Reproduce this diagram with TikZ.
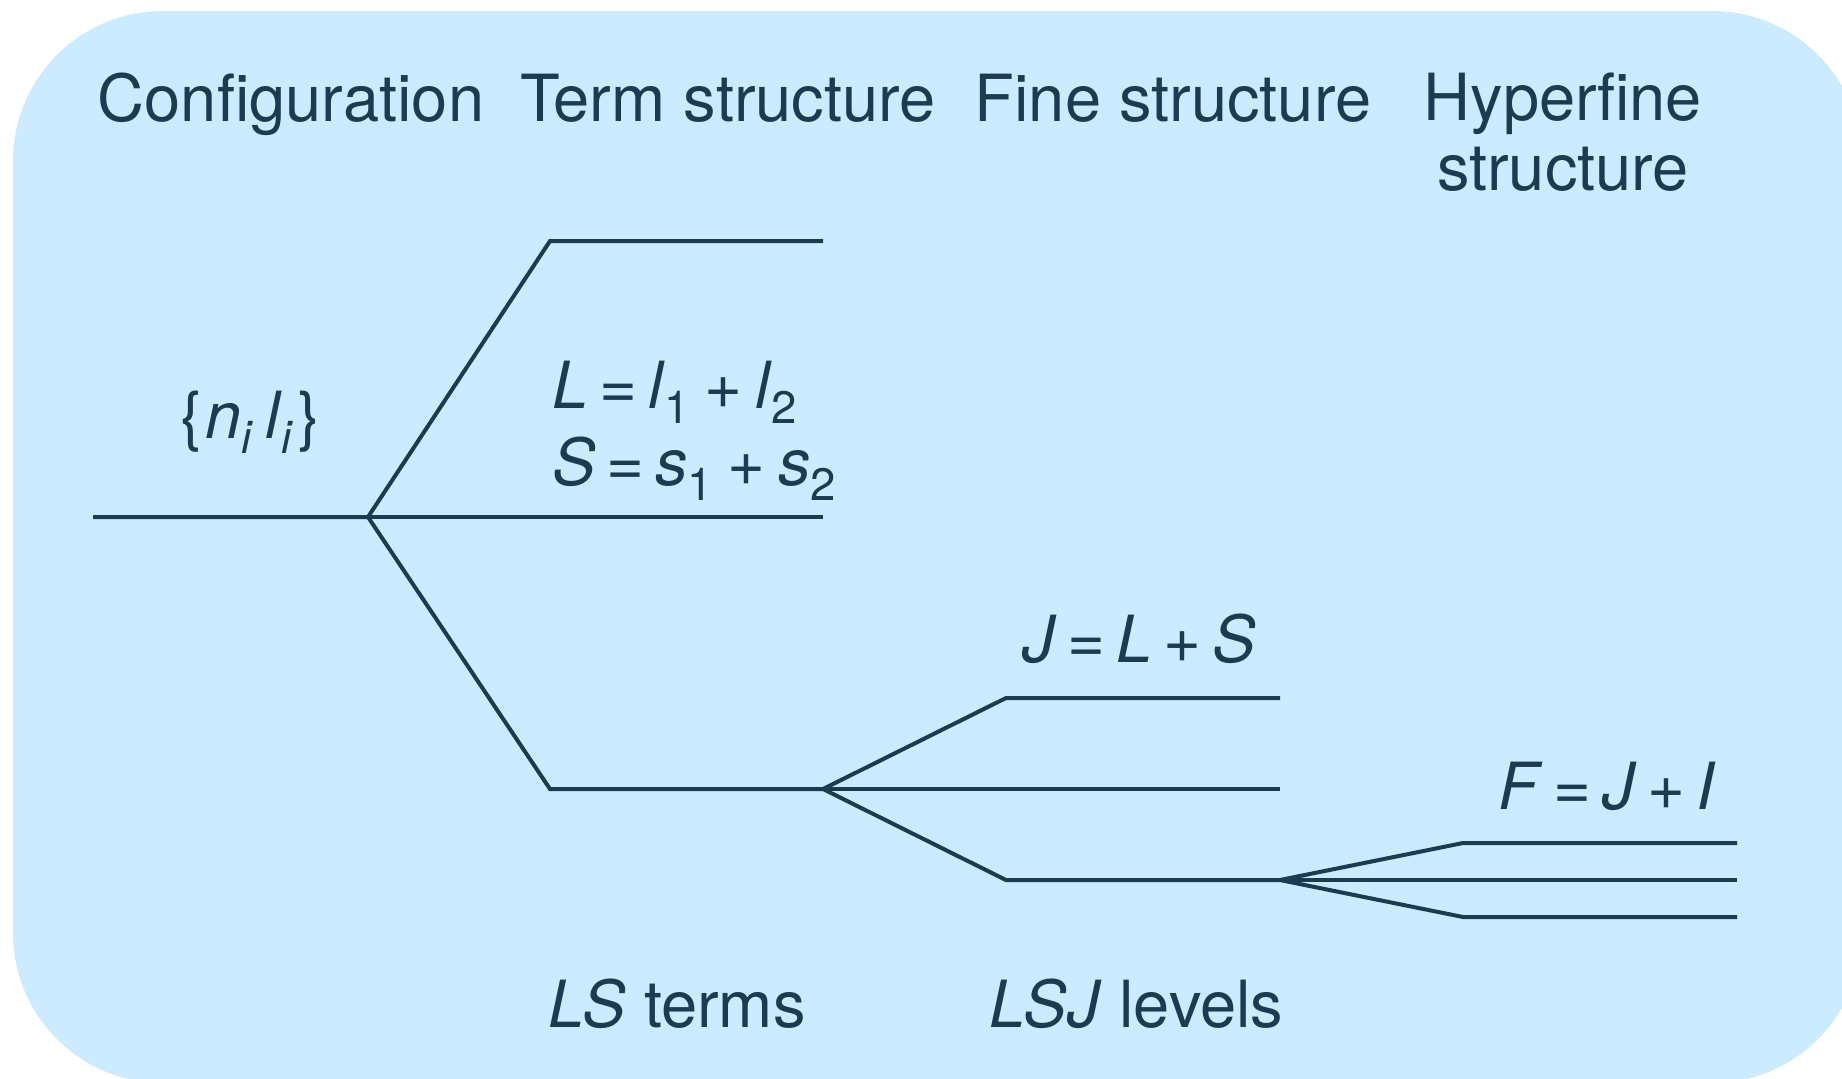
\documentclass[tikz,border=0pt]{standalone}
\usepackage{fontspec}
\setmainfont{TeX Gyre Heros}
\definecolor{bg}{RGB}{204,235,254}
\definecolor{ink}{RGB}{28,58,80}
\newcommand\mv[1]{\textit{#1}}
\newcommand\sbs[1]{\textsubscript{#1}}
\begin{document}
\begin{tikzpicture}[x=0.5pt,y=-0.5pt,
  txt/.style={text=ink,font=\fontsize{32.5}{39}\selectfont,inner sep=0pt},
  lvl/.style={draw=ink,line width=2pt}]
\useasboundingbox (0,0) rectangle (1842,1078);
\fill[bg,rounded corners=75pt] (13,11) rectangle (1862,1083);
% headings
\node[txt,anchor=base] (hconf) at (291,121) {Configuration};
\node[txt,anchor=base] (hterm) at (728,121) {Term structure};
\node[txt,anchor=base] (hfine) at (1173,121) {Fine structure};
\node[txt,anchor=base] (hhypa) at (1563,120) {Hyperfine};
\node[txt,anchor=base] (hhypb) at (1563,190) {structure};
% level coordinates
\coordinate (c0) at (93,517);
\coordinate (c1) at (368,517);
\coordinate (t1a) at (550,241);
\coordinate (t1b) at (823,241);
\coordinate (t2b) at (823,517);
\coordinate (t3a) at (550,789);
\coordinate (t3b) at (823,789);
\coordinate (f1a) at (1006,698);
\coordinate (f1b) at (1280,698);
\coordinate (f2b) at (1280,789);
\coordinate (f3a) at (1006,880);
\coordinate (f3b) at (1280,880);
\coordinate (h1a) at (1463,843);
\coordinate (h1b) at (1737,843);
\coordinate (h2b) at (1737,880);
\coordinate (h3a) at (1463,917);
\coordinate (h3b) at (1737,917);
% levels
\draw[lvl] (c0) -- (c1) -- (t1a) -- (t1b);
\draw[lvl] (c1) -- (t2b);
\draw[lvl] (c1) -- (t3a) -- (t3b);
\draw[lvl] (t3b) -- (f1a) -- (f1b);
\draw[lvl] (t3b) -- (f2b);
\draw[lvl] (t3b) -- (f3a) -- (f3b);
\draw[lvl] (f3b) -- (h1a) -- (h1b);
\draw[lvl] (f3b) -- (h2b);
\draw[lvl] (f3b) -- (h3a) -- (h3b);
% labels
\node[txt,anchor=base] (cfg) at (250,438) {\{\kern0.05em\mv{n}\sbs{\mv{i}}\,\mv{l}\sbs{\mv{i}}\kern0.05em\}};
\node[txt,anchor=base west] (Leq) at (552,408) {\mv{L}\,=\,\mv{l}\sbs{1}\kern0.2em+\kern0.2em\mv{l}\sbs{2}};
\node[txt,anchor=base west] (Seq) at (552,485) {\mv{S}\,=\,\mv{s}\sbs{1}\kern0.2em+\kern0.2em\mv{s}\sbs{2}};
\node[txt,anchor=base west] (Jeq) at (1022,662) {\mv{J}\,=\,\mv{L}\,+\,\mv{S}};
\node[txt,anchor=base west] (Feq) at (1498,809) {\mv{F}\,=\,\mv{J}\,+\,\mv{I}};
\node[txt,anchor=base west] (LS) at (548,1027) {\mv{LS} terms};
\node[txt,anchor=base west] (LSJ) at (989,1027) {\mv{LSJ} levels};
\end{tikzpicture}
\end{document}
